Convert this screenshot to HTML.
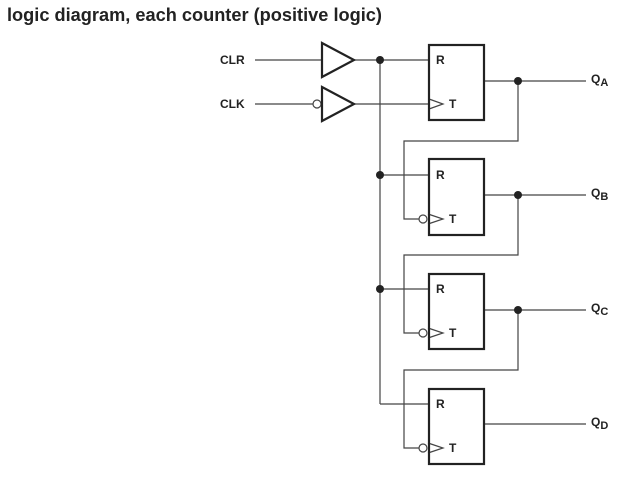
<!DOCTYPE html>
<html><head><style>
html,body{margin:0;padding:0;background:#fff;width:624px;height:480px;overflow:hidden}
svg{display:block}
text{font-family:"Liberation Sans",sans-serif;font-weight:bold;fill:#222}
</style></head><body>
<svg width="624" height="480" viewBox="0 0 624 480">
<text x="7" y="21" font-size="18.2">logic diagram, each counter (positive logic)</text>
<g stroke="#444" stroke-width="1.2" fill="none">
<line x1="255" y1="60" x2="322" y2="60"/>
<line x1="255" y1="104" x2="313" y2="104"/>
<line x1="354" y1="60" x2="429" y2="60"/>
<line x1="354" y1="104" x2="429" y2="104"/>
<line x1="380" y1="60" x2="380" y2="404"/>
<line x1="380" y1="175" x2="429" y2="175"/>
<line x1="380" y1="289" x2="429" y2="289"/>
<line x1="380" y1="404" x2="429" y2="404"/>
<line x1="485" y1="81" x2="586" y2="81"/>
<line x1="485" y1="195" x2="586" y2="195"/>
<line x1="485" y1="310" x2="586" y2="310"/>
<line x1="485" y1="424" x2="586" y2="424"/>
<polyline points="518,81 518,141 404,141 404,219 419,219"/>
<polyline points="518,195 518,255 404,255 404,333 419,333"/>
<polyline points="518,310 518,370 404,370 404,448 419,448"/>
<polyline points="429,99 443,104 429,109"/>
<polyline points="428,214 443,219 428,224"/>
<polyline points="428,328 443,333 428,338"/>
<polyline points="428,443 443,448 428,453"/>
<circle cx="423" cy="219" r="4" fill="#fff"/>
<circle cx="423" cy="333" r="4" fill="#fff"/>
<circle cx="423" cy="448" r="4" fill="#fff"/>
<circle cx="317" cy="104" r="4" fill="#fff"/>
</g>
<g stroke="#222" stroke-width="2.2" fill="none">
<polygon points="322,43 354,60 322,77"/>
<polygon points="322,87 354,104 322,121"/>
<rect x="429" y="45" width="55" height="75"/>
<rect x="429" y="159" width="55" height="76"/>
<rect x="429" y="274" width="55" height="75"/>
<rect x="429" y="389" width="55" height="75"/>
</g>
<g fill="#222">
<circle cx="380" cy="60" r="4"/>
<circle cx="380" cy="175" r="4"/>
<circle cx="380" cy="289" r="4"/>
<circle cx="518" cy="81" r="4"/>
<circle cx="518" cy="195" r="4"/>
<circle cx="518" cy="310" r="4"/>
</g>
<g font-size="12">
<text x="220" y="64">CLR</text>
<text x="220" y="108">CLK</text>
<text x="436" y="64">R</text><text x="449" y="108">T</text>
<text x="436" y="179">R</text><text x="449" y="223">T</text>
<text x="436" y="293">R</text><text x="449" y="337">T</text>
<text x="436" y="408">R</text><text x="449" y="452">T</text>
<text x="591" y="83">Q<tspan font-size="11" dy="3">A</tspan></text>
<text x="591" y="197">Q<tspan font-size="11" dy="3">B</tspan></text>
<text x="591" y="312">Q<tspan font-size="11" dy="3">C</tspan></text>
<text x="591" y="426">Q<tspan font-size="11" dy="3">D</tspan></text>
</g>
</svg>
</body></html>
